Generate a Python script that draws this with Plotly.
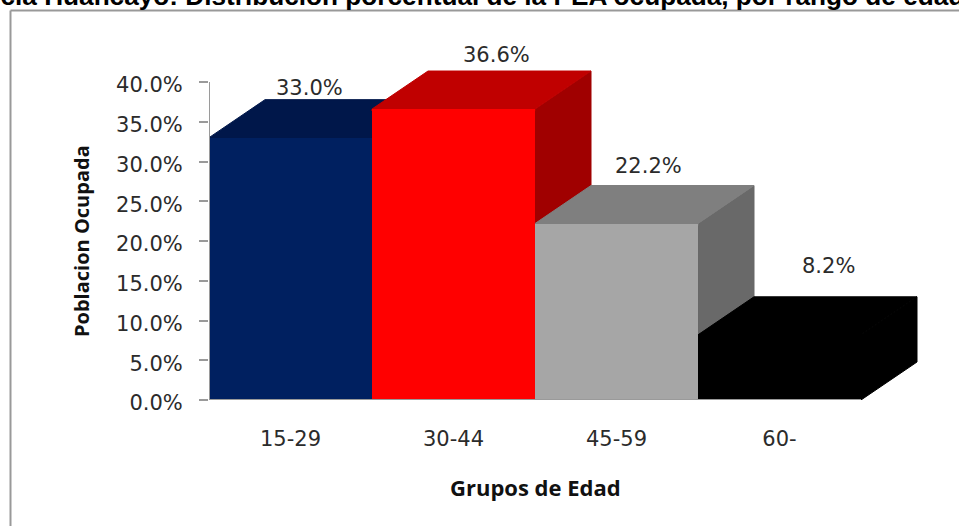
import plotly.graph_objects as go

categories = ["15-29", "30-44", "45-59", "60-"]
values = [33.0, 36.6, 22.2, 8.2]
front_colors = ["#002060", "#FF0000", "#A6A6A6", "#000000"]
top_colors = ["#00174A", "#C00000", "#7F7F7F", "#000000"]
side_colors = ["#001238", "#A00000", "#696969", "#000000"]
y_ticks = [0, 5, 10, 15, 20, 25, 30, 35, 40]

W, H = 959, 526
PX_L, PX_R, PX_T, PX_B = 209, 925, 60, 400
UNIT_X, UNIT_Y = 163.0, 7.95
DX, DY = 56 / UNIT_X, 38 / UNIT_Y
EPS = 2 / UNIT_Y
x_range = [-0.5, -0.5 + (PX_R - PX_L) / UNIT_X]
y_range = [0, (PX_B - PX_T) / UNIT_Y]
label_shift = [(19, 12), (43, 16), (32, 20), (49, 31)]
GRAY = "#9A9A9A"
TXT = "#2B2B2B"
FONT = "DejaVu Sans"

fig = go.Figure()
for i, v in enumerate(values):
    r = i + 0.5
    l = i - 0.5
    fig.add_trace(go.Scatter(x=[r, r + DX, r + DX, r, r], y=[0, DY, v + DY, v, 0],
                             fill="toself", fillcolor=side_colors[i], mode="lines",
                             line=dict(color=side_colors[i], width=1),
                             hoverinfo="skip", showlegend=False, xaxis="x", yaxis="y"))
    fig.add_trace(go.Scatter(x=[l, l, l + DX, r + DX, r, r, l], y=[v - EPS, v, v + DY, v + DY, v, v - EPS, v - EPS],
                             fill="toself", fillcolor=top_colors[i], mode="lines",
                             line=dict(color=top_colors[i], width=1),
                             hoverinfo="skip", showlegend=False, xaxis="x", yaxis="y"))

fig.add_trace(go.Bar(x=list(range(len(values))), y=values, width=1,
                     marker=dict(color=front_colors, line=dict(width=0)),
                     showlegend=False, xaxis="x2", yaxis="y2"))

annotations = []
for i, v in enumerate(values):
    annotations.append(dict(x=i + DX / 2, y=v + DY, xref="x", yref="y",
                            text=f"{v:.1f}%", showarrow=False,
                            xshift=label_shift[i][0] - 28, yshift=label_shift[i][1],
                            font=dict(family=FONT, size=21, color=TXT)))
annotations.append(dict(x=1.5, y=0, xref="x", yref="y", yshift=-87, showarrow=False,
                        text="<b>Grupos de Edad</b>",
                        font=dict(family="Open Sans", size=22, color="#111111")))
annotations.append(dict(x=-0.5, y=20, xref="x", yref="y", xshift=-128, showarrow=False, textangle=-90,
                        text="<b>Poblacion Ocupada</b>",
                        font=dict(family="Open Sans", size=20, color="#111111")))

dom_x = [PX_L / W, PX_R / W]
dom_y = [1 - PX_B / H, 1 - PX_T / H]
fig.update_layout(
    width=W, height=H, margin=dict(l=0, r=0, t=0, b=0),
    paper_bgcolor="white", plot_bgcolor="rgba(0,0,0,0)", bargap=0,
    title=dict(text="<b>Provincia Huancayo: Distribución porcentual de la PEA ocupada, por rango de edad</b>",
               x=0.4605, xref="container", xanchor="center", y=1 - 5 / H, yref="container", yanchor="bottom",
               font=dict(family="Liberation Sans", size=26.2, color="#000000")),
    xaxis=dict(domain=dom_x, range=x_range, automargin=False, tickmode="array", tickvals=list(range(4)),
               ticktext=categories, ticks="", ticklabelstandoff=24, showgrid=False, zeroline=False,
               showline=False, tickfont=dict(family=FONT, size=21, color=TXT)),
    yaxis=dict(domain=dom_y, range=y_range, automargin=False, tickmode="array", tickvals=y_ticks,
               ticktext=[f"{t:.1f}%" for t in y_ticks], ticks="outside", ticklen=9, ticklabelshift=3,
               tickcolor=GRAY, tickwidth=2, ticklabelstandoff=12, showgrid=False, zeroline=False,
               showline=False, tickfont=dict(family=FONT, size=21, color=TXT)),
    xaxis2=dict(domain=dom_x, range=x_range, overlaying="x", visible=False, automargin=False),
    yaxis2=dict(domain=dom_y, range=y_range, overlaying="y", visible=False, automargin=False),
    annotations=annotations,
    shapes=[
        dict(type="line", xref="paper", yref="paper", x0=10.5 / W, x1=1, y0=1 - 10.5 / H, y1=1 - 10.5 / H,
             line=dict(color="#999999", width=2), layer="above"),
        dict(type="line", xref="paper", yref="paper", x0=10.5 / W, x1=10.5 / W, y0=0, y1=1 - 10.5 / H,
             line=dict(color="#999999", width=2), layer="above"),
        dict(type="line", xref="x", yref="y", x0=x_range[0], x1=x_range[0], y0=0, y1=y_ticks[-1],
             line=dict(color=GRAY, width=2), layer="above"),
        dict(type="line", xref="x", yref="y", x0=x_range[0], x1=3.5, y0=0, y1=0,
             line=dict(color=GRAY, width=2), layer="above"),
    ],
)
fig.write_html("out.html", config={"displayModeBar": False},
               post_script="document.body.style.margin='0';document.body.style.overflow='hidden';")
